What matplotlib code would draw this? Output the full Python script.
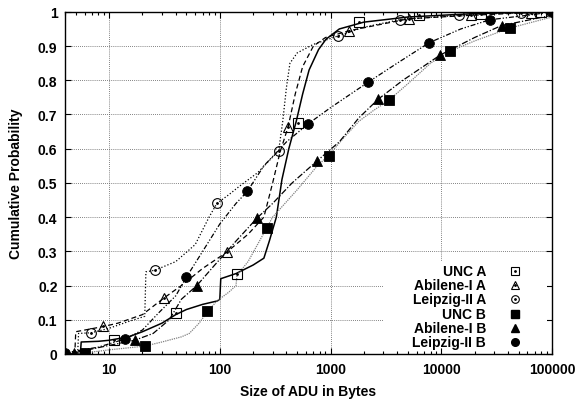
import matplotlib
matplotlib.use("Agg")
import matplotlib.pyplot as plt
from matplotlib.patches import Rectangle

plt.rcParams['font.family'] = ['Liberation Sans', 'DejaVu Sans']
plt.rcParams['font.weight'] = 'bold'

# CDF curves (size in bytes, cumulative probability)
unc_a_x = [4, 5.5, 5.6, 8, 10, 15, 20, 30, 40, 50, 70, 95, 100, 102, 140, 200, 250, 280, 324,
           364, 420, 490, 560, 640, 780, 910, 1200, 2000, 5000, 20000, 100000]
unc_a_y = [0, 0, 0.035, 0.037, 0.04, 0.05, 0.065, 0.09, 0.115, 0.13, 0.145, 0.155, 0.16, 0.22,
           0.235, 0.26, 0.28, 0.33, 0.40, 0.51, 0.6, 0.68, 0.76, 0.83, 0.89, 0.92, 0.95, 0.97,
           0.985, 0.995, 1.0]

abi_a_x = [4, 4.9, 5.0, 8.8, 12, 20, 31.4, 45, 70, 116, 180, 250, 300, 350, 414, 480, 560, 700,
           900, 1480, 5100, 18600, 65000, 100000]
abi_a_y = [0, 0, 0.065, 0.08, 0.09, 0.115, 0.164, 0.2, 0.25, 0.298, 0.35, 0.40, 0.50, 0.59, 0.664,
           0.76, 0.84, 0.9, 0.925, 0.945, 0.98, 0.99, 0.998, 1.0]

lei_a_x = [4, 5.2, 5.3, 6.9, 10, 15, 21, 21.5, 26, 40, 60, 80, 94, 120, 150, 220, 340, 370, 400,
           430, 500, 700, 1175, 2000, 4200, 14500, 52000, 100000]
lei_a_y = [0, 0, 0.06, 0.062, 0.075, 0.095, 0.11, 0.24, 0.245, 0.27, 0.32, 0.40, 0.44, 0.465,
           0.49, 0.53, 0.594, 0.68, 0.78, 0.85, 0.88, 0.905, 0.93, 0.955, 0.977, 0.99, 0.998, 1.0]

unc_b_x = [4, 5.5, 6, 8, 10, 15, 21, 30, 45, 53, 65, 76, 94, 120, 140, 143, 180, 267, 300, 500,
           760, 960, 1300, 1800, 2400, 3400, 5000, 8000, 12000, 20000, 42000, 100000]
unc_b_y = [0, 0, 0.003, 0.008, 0.012, 0.018, 0.023, 0.035, 0.05, 0.06, 0.09, 0.12, 0.155, 0.18,
           0.2, 0.23, 0.27, 0.37, 0.40, 0.48, 0.55, 0.58, 0.63, 0.68, 0.71, 0.743, 0.79, 0.85,
           0.885, 0.915, 0.953, 0.985]

abi_b_x = [4, 4.8, 6, 10, 17, 25, 35, 45, 62, 90, 140, 218, 300, 450, 760, 1200, 1800, 2700,
           4500, 9800, 20000, 35000, 100000]
abi_b_y = [0, 0.003, 0.01, 0.025, 0.04, 0.06, 0.1, 0.16, 0.2, 0.26, 0.33, 0.398, 0.44, 0.5,
           0.565, 0.62, 0.69, 0.745, 0.8, 0.874, 0.925, 0.96, 0.99]

lei_b_x = [4, 8, 14, 20, 28, 40, 50, 70, 100, 140, 177, 250, 400, 630, 1000, 2200, 4000, 7800,
           15000, 27500, 60000, 100000]
lei_b_y = [0.003, 0.02, 0.044, 0.07, 0.12, 0.17, 0.225, 0.3, 0.38, 0.44, 0.475, 0.55, 0.62,
           0.673, 0.72, 0.795, 0.85, 0.91, 0.95, 0.977, 0.99, 1.0]

# sampled points shown with symbols
unc_a_px = [11.1, 40.3, 143, 509, 1820, 6300, 23000, 79000]
unc_a_py = [0.04, 0.12, 0.234, 0.675, 0.97, 0.99, 0.995, 1.0]
abi_a_px = [8.8, 31.4, 116, 414, 1480, 5100, 18600, 65000]
abi_a_py = [0.082, 0.164, 0.298, 0.664, 0.945, 0.98, 0.99, 0.998]
lei_a_px = [6.9, 26, 94, 340, 1175, 4200, 14500, 52000]
lei_a_py = [0.062, 0.245, 0.44, 0.594, 0.93, 0.977, 0.99, 0.998]
unc_b_px = [6, 21, 76, 267, 960, 3400, 12000, 42000]
unc_b_py = [0.003, 0.023, 0.125, 0.368, 0.58, 0.743, 0.885, 0.953]
abi_b_px = [4.8, 17, 62, 218, 760, 2700, 9800, 35000]
abi_b_py = [0.003, 0.04, 0.2, 0.398, 0.565, 0.745, 0.874, 0.96]
lei_b_px = [4, 14, 50, 177, 630, 2200, 7800, 27500, 100000]
lei_b_py = [0.003, 0.044, 0.225, 0.475, 0.673, 0.795, 0.91, 0.977, 1.0]

labels = ['UNC A', 'Abilene-I A', 'Leipzig-II A', 'UNC B', 'Abilene-I B', 'Leipzig-II B']

fig = plt.figure(figsize=(5.78, 4.02), dpi=100)
ax = fig.add_axes([0.1125, 0.117, 0.8425, 0.851])

series = [
    (unc_a_x, unc_a_y, unc_a_px, unc_a_py, 'black', '-', 1.1, 's', 6.5, False),
    (abi_a_x, abi_a_y, abi_a_px, abi_a_py, 'black', (0, (4, 2.5)), 0.9, '^', 7, False),
    (lei_a_x, lei_a_y, lei_a_px, lei_a_py, 'black', (0, (1, 1.6)), 0.9, 'o', 7, False),
    (unc_b_x, unc_b_y, unc_b_px, unc_b_py, '0.5', (0, (1, 0.8)), 0.9, 's', 7, True),
    (abi_b_x, abi_b_y, abi_b_px, abi_b_py, 'black', (0, (5, 1.5, 1, 1.5)), 0.9, '^', 6.5, True),
    (lei_b_x, lei_b_y, lei_b_px, lei_b_py, 'black', (0, (4, 1.5, 1, 1.5, 1, 1.5)), 0.9, 'o', 7, True),
]

for lx, ly, px, py, col, ls, lw, mk, ms, filled in series:
    ax.plot(lx, ly, color=col, linestyle=ls, linewidth=lw, zorder=2)
    if filled:
        ax.plot(px, py, linestyle='none', marker=mk, markersize=ms, color='black',
                markeredgewidth=0.6, zorder=4)
    else:
        ax.plot(px, py, linestyle='none', marker=mk, markersize=ms, markerfacecolor='none',
                markeredgecolor='black', markeredgewidth=0.8, zorder=4)
        ax.plot(px, py, linestyle='none', marker='o', markersize=1.0, color='black', zorder=4)

ax.set_xscale('log')
ax.set_xlim(4, 100000)
ax.set_ylim(0, 1)
ax.set_xticks([10, 100, 1000, 10000, 100000])
ax.set_xticklabels(['10', '100', '1000', '10000', '100000'])
ax.set_yticks([i / 10 for i in range(11)])
ax.set_yticklabels(['0'] + ['%.1f' % (i / 10) for i in range(1, 10)] + ['1'])
ax.tick_params(which='both', direction='in', top=True, right=True, labelsize=10, width=0.8)
ax.tick_params(which='major', length=4.5, pad=5.5)
ax.tick_params(which='minor', length=2.3)
for s in ax.spines.values():
    s.set_linewidth(1.0)

ax.set_axisbelow(True)
ax.grid(True, which='major', color='0.35', linestyle=(0, (1, 1.5)), linewidth=0.6)

ax.set_xlabel('Size of ADU in Bytes', fontsize=10, fontweight='bold', labelpad=6)
ax.set_ylabel('Cumulative Probability', fontsize=10, fontweight='bold', labelpad=11)

# key: white box, right-aligned labels, symbols only
ax.add_patch(Rectangle((0.655, 0.016), 0.335, 0.256, transform=ax.transAxes,
                       facecolor='white', edgecolor='none', zorder=1))
key_marks = [('s', False), ('^', False), ('o', False), ('s', True), ('^', True), ('o', True)]
for i, (lab, (mk, filled)) in enumerate(zip(labels, key_marks)):
    yk = 0.2427 - i * 0.0415
    ax.text(0.8645, yk, lab, transform=ax.transAxes, ha='right', va='center',
            fontsize=10, fontweight='bold', zorder=5)
    if filled:
        ax.plot([0.924], [yk], transform=ax.transAxes, marker=mk, markersize=5.5,
                color='black', linestyle='none', zorder=5, clip_on=False)
    else:
        ax.plot([0.924], [yk], transform=ax.transAxes, marker=mk, markersize=5.5,
                markerfacecolor='none', markeredgecolor='black', markeredgewidth=0.8,
                linestyle='none', zorder=5, clip_on=False)
        ax.plot([0.924], [yk], transform=ax.transAxes, marker='o', markersize=1.0,
                color='black', linestyle='none', zorder=5, clip_on=False)

fig.savefig('out.png', dpi=100)
